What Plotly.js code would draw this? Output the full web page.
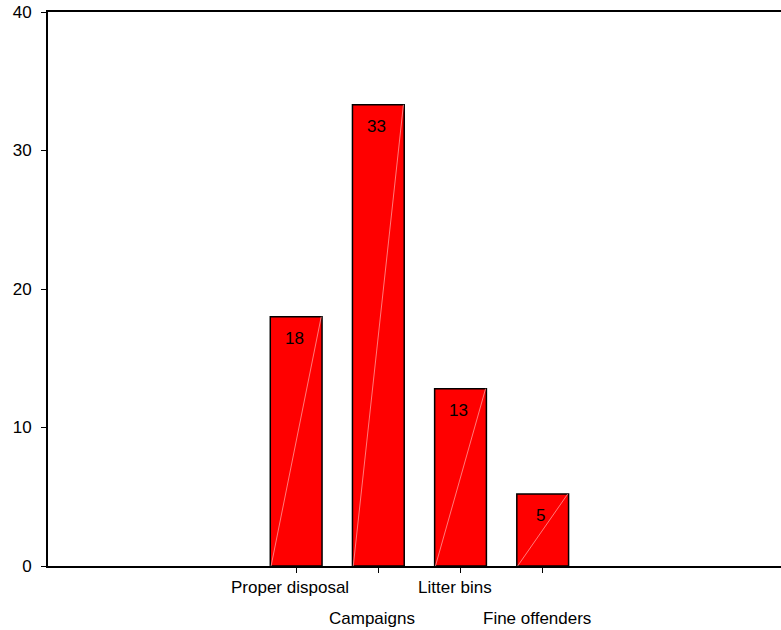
<!DOCTYPE html>
<html>
<head>
<meta charset="utf-8">
<script src="https://cdn.plot.ly/plotly-3.0.1.min.js"></script>
<style>html,body{margin:0;padding:0;background:#fff;}#chart{width:781px;height:630px;}</style>
</head>
<body>
<div id="chart"></div>
<script>
// Data
const categories = ["Proper disposal", "Campaigns", "Litter bins", "Fine offenders"];
const values = [18.0, 33.3, 12.8, 5.2];
const valueLabels = ["18", "33", "13", "5"];
const labelRow = [0, 1, 0, 1]; // staggered x-axis labels
const yTicks = [0, 10, 20, 30, 40];

const positions = categories.map((c, i) => i);
const barWidth = 0.63;
const FONT = '"Liberation Sans", Arial, sans-serif';

const traces = [{
  type: 'bar',
  x: positions,
  y: values,
  width: barWidth,
  marker: {color: '#ff0000', line: {color: '#000000', width: 1.5}},
  hoverinfo: 'skip',
  showlegend: false
}];

// faint diagonal highlight inside each bar (as in the reference rendering)
positions.forEach((p, i) => {
  traces.push({
    type: 'scatter', mode: 'lines',
    x: [p - barWidth / 2 + 0.01, p + barWidth / 2 - 0.01],
    y: [0, values[i]],
    line: {color: 'rgba(255,170,170,0.9)', width: 0.8},
    hoverinfo: 'skip', showlegend: false
  });
});

const annotations = [];
positions.forEach((p, i) => {
  annotations.push({
    x: p, y: values[i], xref: 'x', yref: 'y',
    text: valueLabels[i], showarrow: false,
    xshift: -2, yshift: -22, yanchor: 'middle',
    font: {family: FONT, size: 17, color: '#000'}
  });
  annotations.push({
    x: p, y: 0, xref: 'x', yref: 'paper',
    text: categories[i], showarrow: false,
    xshift: -6, yshift: labelRow[i] === 0 ? -21 : -52, yanchor: 'middle',
    font: {family: FONT, size: 17, color: '#000'}
  });
});

const layout = {
  width: 781, height: 630,
  margin: {l: 48, r: 0, t: 12, b: 64, pad: 0},
  paper_bgcolor: '#fff', plot_bgcolor: '#fff',
  font: {family: FONT, color: '#000'},
  xaxis: {
    range: [-3.02, 5.9],
    tickmode: 'array', tickvals: positions, showticklabels: false,
    ticks: 'outside', ticklen: 5, tickwidth: 1, tickcolor: '#000',
    showgrid: false, zeroline: false,
    showline: true, linecolor: '#000', linewidth: 2, mirror: true
  },
  yaxis: {
    range: [0, 40],
    tickmode: 'array', tickvals: yTicks,
    ticks: 'outside', ticklen: 5, tickwidth: 1, tickcolor: '#000',
    ticklabelstandoff: 6,
    tickfont: {family: FONT, size: 17, color: '#000'},
    showgrid: false, zeroline: false,
    showline: true, linecolor: '#000', linewidth: 2
  },
  annotations: annotations,
  bargap: 0
};

Plotly.newPlot('chart', traces, layout, {displayModeBar: false, staticPlot: true});
</script>
</body>
</html>
